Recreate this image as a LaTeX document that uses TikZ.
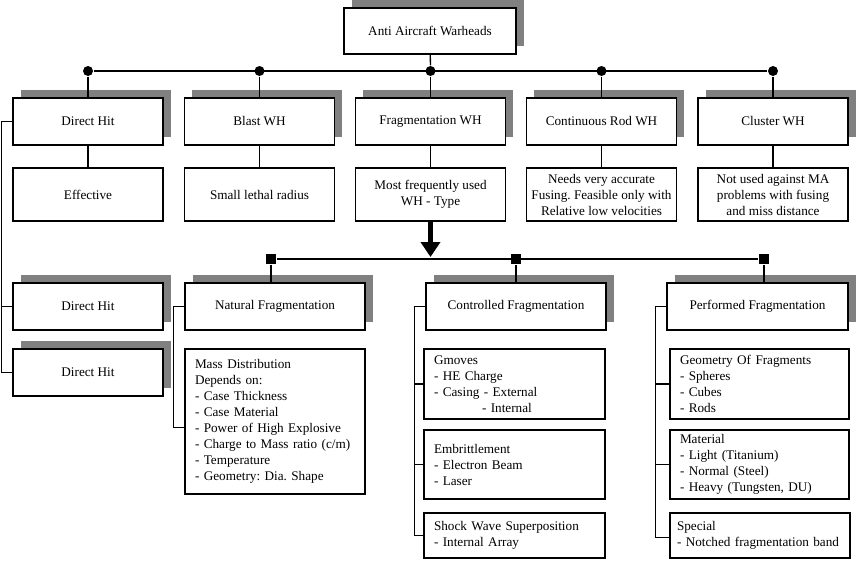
\documentclass[tikz,border=0pt]{standalone}
\usepackage{fontspec}
\setmainfont{Liberation Serif}
\usepackage{tikz}
\usetikzlibrary{arrows.meta, shadows}
\definecolor{shadowgray}{RGB}{128,128,128}
\frenchspacing

\begin{document}
\begin{tikzpicture}[x=1pt, y=-1pt, >=Stealth, line width=1.3pt,
  font=\fontsize{13.2}{16}\selectfont,
  box/.style={draw, fill=white, inner sep=0pt, minimum width=150pt, minimum height=47pt, align=center},
  shbox/.style={box, general shadow={fill=shadowgray, shadow xshift=7.5pt, shadow yshift=8pt}},
  listbox/.style={draw, fill=white, inner xsep=10pt, inner ysep=0pt, align=left, text width=#1},
  dot/.style={circle, fill, inner sep=0pt, minimum size=10pt},
  sq/.style={rectangle, fill, inner sep=0pt, minimum size=10pt}]
  \useasboundingbox (0,0) rectangle (856,560);

  \node[shbox, minimum width=172pt, minimum height=46pt] (top) at (430,31) {Anti Aircraft Warheads};

  \node[shbox] (dh1) at (88,121.5) {Direct Hit};
  \node[shbox] (blast) at (259.5,121.5) {Blast WH};
  \node[shbox] (frag) at (430.5,121.5) {Fragmentation WH};
  \node[shbox] (rod) at (601.5,121.5) {Continuous Rod WH};
  \node[shbox] (cluster) at (773,121.5) {Cluster WH};

  \node[box, minimum height=53pt] (eff) at (88,194.5) {Effective};
  \node[box, minimum height=53pt] (lethal) at (259.5,194.5) {Small lethal radius};
  \node[box, minimum height=53pt] (most) at (430.5,194.5) {Most frequently used\\WH - Type};
  \node[box, minimum height=53pt] (needs) at (601.5,194.5) {Needs very accurate\\Fusing. Feasible only with\\Relative low velocities};
  \node[box, minimum height=53pt] (notused) at (773,194.5) {Not used against MA\\problems with fusing\\and miss distance};

  \foreach \n/\x in {1/88, 2/259.5, 3/430.5, 4/601.5, 5/773}
    \node[dot] (d\n) at (\x,71) {};
  \draw (d1) -- (d5);
  \draw (top) -- (d3);
  \foreach \n/\b in {1/dh1, 2/blast, 3/frag, 4/rod, 5/cluster}
    \draw (d\n) -- (\b);
  \draw (dh1) -- (eff);
  \draw (blast) -- (lethal);
  \draw (frag) -- (most);
  \draw (rod) -- (needs);
  \draw (cluster) -- (notused);

  \node[shbox] (dh2) at (88,306.5) {Direct Hit};
  \node[shbox] (dh3) at (88,372.5) {Direct Hit};
  \draw (dh1.west) -- ++(-11,0) |- (dh3.west);
  \draw (dh2.west) -- ++(-11,0);

  \coordinate (tip) at (430.5,257);
  \draw[line width=5pt, -{Triangle[width=19pt, length=15pt]}] (most) -- (tip);

  \node[shbox, minimum width=180pt] (nat) at (275,306.5) {Natural Fragmentation};
  \node[shbox, minimum width=180pt] (ctrl) at (516,306.5) {Controlled Fragmentation};
  \node[shbox, minimum width=181pt] (perf) at (757.5,306.5) {Performed Fragmentation};

  \node[sq] (s1) at (271,259) {};
  \node[sq] (s2) at (516,259) {};
  \node[sq] (s3) at (764,259) {};
  \draw (s1) -- (s3);
  \foreach \n/\b in {1/nat, 2/ctrl, 3/perf}
    \draw (s\n) -- (s\n |- \b.north);

  \node[listbox=160pt, minimum height=145pt] (mass) at (275,421.5) {Mass Distribution\\Depends on:\\- Case Thickness\\- Case Material\\- Power of High Explosive\\- Charge to Mass ratio (c/m)\\- Temperature\\- Geometry: Dia. Shape};

  \node[listbox=161pt, minimum height=70pt] (gmoves) at (514.5,384) {Gmoves\\- HE Charge\\- Casing - External\\\hspace*{48pt}- Internal};
  \node[listbox=161pt, minimum height=69pt] (embr) at (514.5,464.5) {Embrittlement\\- Electron Beam\\- Laser};
  \node[listbox=161pt, minimum height=45pt] (shock) at (514.5,535.5) {Shock Wave Superposition\\- Internal Array};

  \node[listbox=159pt, minimum height=70pt] (geom) at (759.5,384) {Geometry Of Fragments\\- Spheres\\- Cubes\\- Rods};
  \node[listbox=159pt, minimum height=69pt] (mat) at (759.5,464.5) {Material\\- Light (Titanium)\\- Normal (Steel)\\- Heavy (Tungsten, DU)};
  \node[listbox=166pt, inner xsep=7pt, minimum height=45pt] (spec) at (760,535.5) {Special\\- Notched fragmentation band};

  \draw (nat.west) -- ++(-11,0) |- ([yshift=-6pt]mass.west);
  \draw (ctrl.west) -- ++(-11,0) coordinate (cb) |- (shock.west);
  \foreach \n in {gmoves, embr}
    \draw (cb |- \n.west) -- (\n.west);
  \draw (perf.west) -- ++(-11,0) coordinate (pb) |- ([yshift=-2pt]spec.west);
  \foreach \n in {geom, mat}
    \draw (pb |- \n.west) -- (\n.west);
\end{tikzpicture}
\end{document}
